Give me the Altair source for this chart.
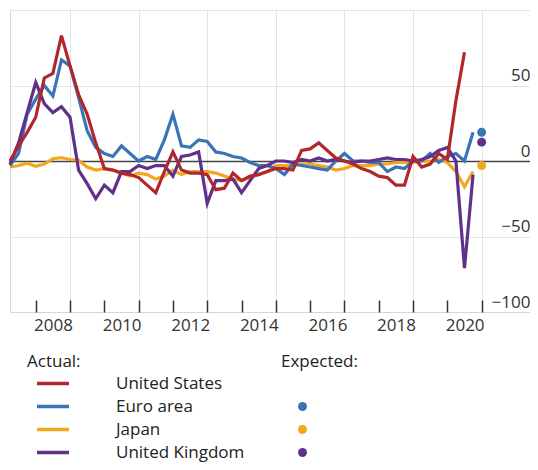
import altair as alt
import pandas as pd

# ---- data (quarterly, first quarter at 2007.25) ----
start_year = 2007.25
countries = ["United States", "Euro area", "Japan", "United Kingdom"]
colors = ["#B0282E", "#3A74B7", "#F2A81D", "#60308A"]

us = [0, 10, 19, 29, 55, 58, 83, 63, 44, 31, 12, -5, -6, -8, -9, -11, -16, -21, -7, 6,
      -6, -8, -8, -9, -19, -18, -8, -13, -10, -9, -7, -5, -5, -6, 7, 8, 12, 7, 2, 0,
      -2, -5, -7, -10, -11, -16, -16, 3, -4, -2, 5, 1, 40, 72]
ea = [-3, 5, 31, 41, 50, 43, 67, 63, 42, 20, 9, 5, 3, 10, 5, 0, 3, 1, 14, 31,
      10, 9, 14, 13, 6, 5, 3, 2, -1, -3, -3, -5, -9, -2, -3, -4, -5, -6, 0, 5,
      0, 0, -1, -1, -7, -4, -5, 0, 0, 5, -1, 3, 5, 0, 19]
jp = [-4, -3, -1.5, -3.5, -2, 1.5, 2.2, 1, 0.5, -4, -6, -5, -6, -8, -10, -8, -9, -12, -10, -6,
      -9, -7, -7, -7, -8, -10, -12, -13, -11, -9, -7, -3, -3, -3, -2, -2, -3, -4, -6, -5,
      -3, -3, -3, -2, -2, -1, -1, -1, 0, 0, 1, -1, -7, -17, -7]
uk = [-2, 12, 32, 52, 38, 32, 36, 29, -6, -15, -25, -16, -21, -7, -7, -3, -5, -3, -3, -10,
      3, 4, 6, -28, -13, -13, -12, -21, -13, -5, -3, 0, 0, -1, 1, 0, 2, 0, 1, 0,
      -1, 0, 0, 1, 2, 1, 1, 0, 1, 3, 7, 9, 0, -71, -9]

exp_countries = ["Euro area", "Japan", "United Kingdom"]
exp_values = [19, -3, 12.5]
exp_time = 2021.0

year_ticks = list(range(2008, 2022))
grid_years = list(range(2009, 2022, 2))
y_values = [-100, -50, 0, 50, 100]

# draw order: Japan, Euro area, UK, US (US on top)
series = {"United States": us, "Euro area": ea, "Japan": jp, "United Kingdom": uk}
rows = []
for name in ["Japan", "Euro area", "United Kingdom", "United States"]:
    for i, v in enumerate(series[name]):
        rows.append({"country": name, "t": start_year + 0.25 * i, "v": v})
df_lines = pd.DataFrame(rows)
df_exp = pd.DataFrame({"country": exp_countries, "t": [exp_time] * 3, "v": exp_values})

FONT = "Open Sans"
x_scale = alt.Scale(domain=[2007.25, 2022.41], nice=False, zero=False)
y_scale = alt.Scale(domain=[-100, 100], nice=False, zero=False)

lines = alt.Chart(df_lines).mark_line(strokeWidth=3.2).encode(
    x=alt.X("t:Q", scale=x_scale, axis=alt.Axis(
        orient="bottom", values=grid_years, grid=True, gridColor="#e4e4e4",
        ticks=False, labelExpr="'' + (datum.value - 1)", labelOffset=-17,
        labelPadding=5, domainColor="#d6d6d6", title=None,
        labelFontSize=17, labelColor="#333", labelFont=FONT)),
    y=alt.Y("v:Q", scale=y_scale, axis=alt.Axis(
        orient="right", values=y_values, grid=True,
        gridColor={"condition": {"test": "datum.value === 0", "value": "#444444"}, "value": "#e4e4e4"},
        gridWidth={"condition": {"test": "datum.value === 0", "value": 1.5}, "value": 1},
        ticks=False, tickSize=0, domain=False, labelAlign="right", labelPadding=0,
        labelBaseline="alphabetic", labelOffset=-5,
        labelExpr="datum.value == 100 ? '' : replace(datum.label, '-', '\u2212')",
        title=None, labelFontSize=17, labelColor="#333", labelFont=FONT)),
    color=alt.Color("country:N", scale=alt.Scale(domain=countries, range=colors),
                    legend=alt.Legend(
                        orient="none", legendX=17, legendY=344, title="Actual:",
                        titleFontSize=17, titleFontWeight="normal", titleColor="#222",
                        titleFont=FONT, titlePadding=2, labelFontSize=17, labelColor="#222",
                        labelFont=FONT, symbolType="stroke", symbolStrokeWidth=3.5,
                        symbolSize=1024, symbolOffset=8, labelOffset=45, clipHeight=21,
                        rowPadding=2, padding=0)),
)

points = alt.Chart(df_exp).mark_circle(size=80, opacity=1).encode(
    x=alt.X("t:Q", scale=x_scale, axis=alt.Axis(
        orient="top", offset=-302, values=year_ticks, labels=False, grid=False,
        domain=False, ticks=True, tickSize=12, tickColor="#333", tickWidth=1.5, title=None)),
    y=alt.Y("v:Q", scale=y_scale, axis=alt.Axis(
        orient="left", labels=False, ticks=False, grid=False, domain=True,
        domainColor="#d6d6d6", title=None)),
    color=alt.Color("country:N",
                    scale=alt.Scale(domain=countries,
                                    range=["rgba(0,0,0,0)", colors[1], colors[2], colors[3]]),
                    legend=alt.Legend(
                        orient="none", legendX=271, legendY=344, title="Expected:",
                        titleFontSize=17, titleFontWeight="normal", titleColor="#222",
                        titleFont=FONT, titlePadding=2, labelExpr="''", labelFontSize=17,
                        symbolType="circle", symbolSize=80, symbolOffset=13,
                        symbolStrokeWidth=0, clipHeight=21, rowPadding=2, padding=0)),
)

chart = alt.layer(lines, points).resolve_scale(color="independent").resolve_axis(
    x="independent", y="independent"
).properties(
    width=520, height=302,
    autosize=alt.AutoSizeParams(type="none"),
    padding={"left": 2, "top": 2, "right": 0, "bottom": 150},
).configure_view(stroke=None).configure(font=FONT)

chart.save("out.html", embed_options={"renderer": "svg", "actions": False})
